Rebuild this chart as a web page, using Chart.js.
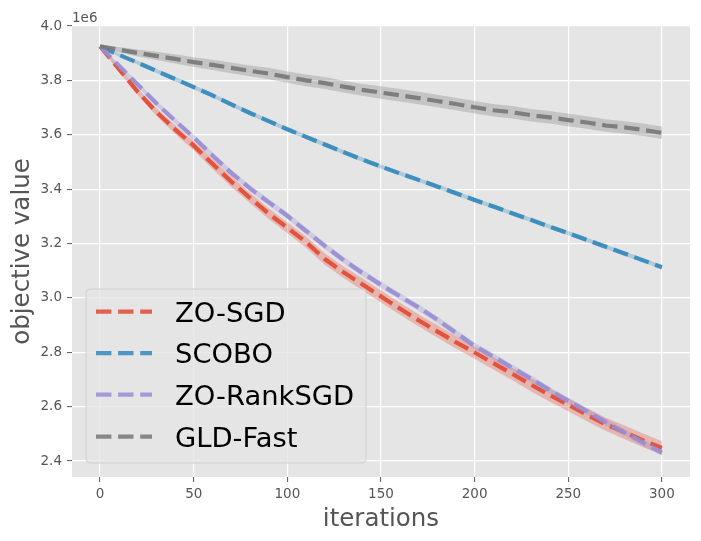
<!DOCTYPE html>
<html><head><meta charset="utf-8">
<script src="https://cdn.jsdelivr.net/npm/chart.js@4.4.1/dist/chart.umd.min.js"></script>
<style>html,body{margin:0;padding:0;background:#fff;overflow:hidden}canvas{display:block}</style>
</head><body>
<canvas id="c" width="701" height="541"></canvas>
<script>
// iterations (x values)
const iterations = [0,10,20,30,40,50,60,70,80,90,100,110,120,130,140,150,160,170,180,190,200,210,220,230,240,250,260,270,280,290,300];
// objective value means (units of 1e6)
const zoSgd = [3.925,3.842,3.759,3.684,3.620,3.560,3.493,3.428,3.368,3.310,3.258,3.205,3.143,3.094,3.050,3.005,2.961,2.918,2.877,2.837,2.799,2.760,2.721,2.681,2.643,2.607,2.570,2.535,2.506,2.476,2.448];
const scobo = [3.925,3.894,3.865,3.835,3.805,3.775,3.745,3.712,3.680,3.650,3.620,3.592,3.564,3.536,3.509,3.483,3.458,3.434,3.410,3.385,3.360,3.336,3.311,3.287,3.262,3.238,3.213,3.188,3.163,3.138,3.113];
const zoRankSgd = [3.925,3.855,3.785,3.716,3.652,3.590,3.524,3.460,3.403,3.352,3.302,3.246,3.191,3.139,3.092,3.048,3.006,2.965,2.920,2.872,2.823,2.784,2.743,2.703,2.661,2.621,2.583,2.543,2.505,2.467,2.431];
const gldFast = [3.925,3.913,3.901,3.890,3.879,3.867,3.857,3.846,3.835,3.825,3.812,3.800,3.790,3.777,3.765,3.755,3.745,3.735,3.724,3.713,3.701,3.690,3.683,3.672,3.664,3.654,3.645,3.634,3.627,3.618,3.607];
// std band half-widths (units of 1e6)
const zoSgdStd = [0.003,0.009,0.012,0.014,0.016,0.017,0.018,0.019,0.019,0.020,0.020,0.021,0.021,0.021,0.022,0.022,0.022,0.022,0.023,0.023,0.023,0.023,0.023,0.024,0.024,0.024,0.024,0.024,0.025,0.025,0.025];
const scoboStd = [0.003,0.006,0.007,0.008,0.008,0.008,0.008,0.008,0.008,0.008,0.008,0.008,0.008,0.008,0.008,0.008,0.008,0.008,0.008,0.008,0.008,0.008,0.008,0.008,0.008,0.008,0.008,0.008,0.008,0.008,0.008];
const zoRankSgdStd = [0.003,0.007,0.009,0.010,0.010,0.011,0.011,0.011,0.011,0.012,0.012,0.012,0.012,0.012,0.012,0.012,0.012,0.012,0.012,0.012,0.012,0.012,0.012,0.012,0.012,0.012,0.012,0.012,0.012,0.012,0.012];
const gldFastStd = [0.005,0.010,0.013,0.015,0.017,0.018,0.019,0.020,0.020,0.021,0.021,0.022,0.022,0.022,0.022,0.023,0.023,0.023,0.023,0.023,0.023,0.023,0.023,0.023,0.023,0.023,0.023,0.023,0.023,0.023,0.023];
const seriesNames = ['ZO-SGD','SCOBO','ZO-RankSGD','GLD-Fast'];
const seriesColors = [[226,74,51],[52,138,189],[152,142,213],[119,119,119]];
const seriesMeans = [zoSgd, scobo, zoRankSgd, gldFast];
const seriesStds = [zoSgdStd, scoboStd, zoRankSgdStd, gldFastStd];
// axis ticks
const xTickValues = [0,50,100,150,200,250,300];
const xTickLabels = ['0','50','100','150','200','250','300'];
const yTickValues = [2.4,2.6,2.8,3.0,3.2,3.4,3.6,3.8,4.0];
const yTickLabels = ['2.4','2.6','2.8','3.0','3.2','3.4','3.6','3.8','4.0'];
const yOffsetLabel = '1e6';
const xTitle = 'iterations';
const yTitle = 'objective value';

const rgba = (c,a) => `rgba(${c[0]},${c[1]},${c[2]},${a})`;
const pts = arr => arr.map((v,i) => ({x: iterations[i], y: v}));

const datasets = [];
let ord = 1000;
seriesMeans.forEach((m, s) => {
  const sd = seriesStds[s];
  const c = seriesColors[s];
  const upIdx = datasets.length;
  datasets.push({ label: seriesNames[s]+' upper', data: pts(m.map((v,i)=>v+sd[i])), borderWidth: 0, pointRadius: 0, fill: false, order: ord-- });
  datasets.push({ label: seriesNames[s]+' lower', data: pts(m.map((v,i)=>v-sd[i])), borderWidth: 0, pointRadius: 0, fill: upIdx, backgroundColor: rgba(c,0.3), order: ord-- });
  datasets.push({ label: seriesNames[s], data: pts(m), borderColor: rgba(c,0.92), borderWidth: 4.2, borderDash: [15.4, 6.7], borderCapStyle: 'butt', pointRadius: 0, fill: false, tension: 0, order: ord-- });
});

const tickFont = { family: 'DejaVu Sans', size: 13.5 };

const decor = {
  id: 'decor',
  beforeDraw(chart) {
    const { ctx, chartArea: a } = chart;
    ctx.save();
    ctx.fillStyle = '#ffffff';
    ctx.fillRect(0, 0, chart.width, chart.height);
    ctx.fillStyle = '#E5E5E5';
    ctx.fillRect(a.left, a.top, a.right - a.left, a.bottom - a.top);
    ctx.restore();
  },
  afterDraw(chart) {
    const { ctx, chartArea: a } = chart;
    ctx.save();
    // offset text
    ctx.fillStyle = '#555555';
    ctx.font = '13.5px "DejaVu Sans"';
    ctx.textAlign = 'left';
    ctx.textBaseline = 'alphabetic';
    ctx.fillText(yOffsetLabel, a.left, 21.5);
    // axis titles
    ctx.font = '24.5px "DejaVu Sans"';
    ctx.textAlign = 'center';
    ctx.fillText(xTitle, (a.left + a.right) / 2, 526);
    ctx.save();
    ctx.translate(29, (a.top + a.bottom) / 2);
    ctx.rotate(-Math.PI / 2);
    ctx.fillText(yTitle, 0, 0);
    ctx.restore();
    // legend
    const bx = 86, by = 289, bw = 280, bh = 174, r = 4;
    ctx.beginPath();
    ctx.moveTo(bx + r, by);
    ctx.arcTo(bx + bw, by, bx + bw, by + bh, r);
    ctx.arcTo(bx + bw, by + bh, bx, by + bh, r);
    ctx.arcTo(bx, by + bh, bx, by, r);
    ctx.arcTo(bx, by, bx + bw, by, r);
    ctx.closePath();
    ctx.fillStyle = 'rgba(229,229,229,0.8)';
    ctx.fill();
    ctx.strokeStyle = '#D0D0D0';
    ctx.lineWidth = 1;
    ctx.stroke();
    const rows = [311.7, 353.2, 394.7, 436.7];
    ctx.font = '27.4px "DejaVu Sans"';
    ctx.textAlign = 'left';
    ctx.textBaseline = 'alphabetic';
    seriesNames.forEach((n, i) => {
      const y = rows[i];
      ctx.beginPath();
      ctx.setLineDash([15.4, 6.7]);
      ctx.lineCap = 'butt';
      ctx.lineWidth = 4.2;
      ctx.strokeStyle = rgba(seriesColors[i], 0.85);
      ctx.moveTo(96, y);
      ctx.lineTo(152, y);
      ctx.stroke();
      ctx.setLineDash([]);
      ctx.fillStyle = '#000000';
      ctx.fillText(n, 175, y + 10);
    });
    ctx.restore();
  }
};

new Chart(document.getElementById('c'), {
  type: 'line',
  data: { datasets },
  options: {
    responsive: false,
    animation: false,
    devicePixelRatio: 1,
    layout: { padding: { top: 26, right: 11, left: 0, bottom: 0 } },
    plugins: { legend: { display: false }, tooltip: { enabled: false }, filler: { drawTime: 'beforeDatasetDraw' } },
    scales: {
      x: {
        type: 'linear', min: -15, max: 315,
        afterBuildTicks: s => { s.ticks = xTickValues.map(v => ({ value: v })); },
        afterFit: s => { s.height = 64; },
        ticks: { callback: (v, i) => xTickLabels[i], font: tickFont, color: '#555555', padding: 4, maxRotation: 0, autoSkip: false },
        grid: { color: '#ffffff', lineWidth: 1.2, tickColor: '#555555', tickLength: 5, tickWidth: 1 },
        border: { display: false }
      },
      y: {
        type: 'linear', min: 2.3412, max: 4.0,
        afterBuildTicks: s => { s.ticks = yTickValues.map(v => ({ value: v })); },
        afterFit: s => { s.width = 72; },
        ticks: { callback: (v, i) => yTickLabels[i], font: tickFont, color: '#555555', padding: 5, autoSkip: false },
        grid: { color: '#ffffff', lineWidth: 1.2, tickColor: '#555555', tickLength: 5, tickWidth: 1 },
        border: { display: false }
      }
    }
  },
  plugins: [decor]
});
</script>
</body></html>
